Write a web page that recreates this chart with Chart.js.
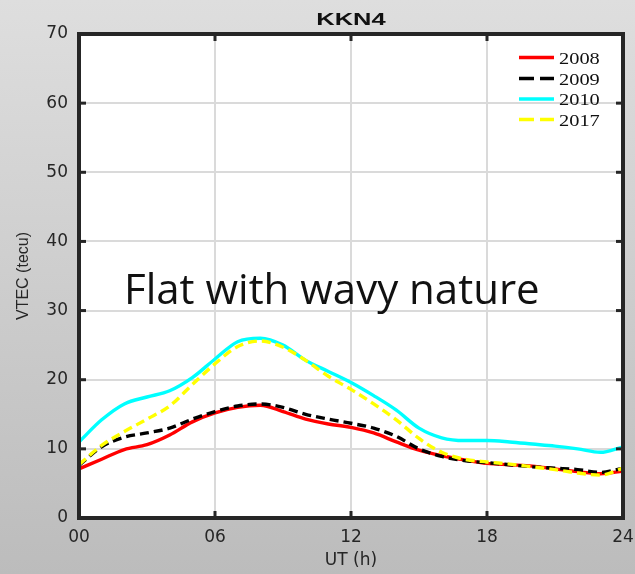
<!DOCTYPE html>
<html>
<head>
<meta charset="utf-8">
<title>KKN4</title>
<script src="https://cdn.jsdelivr.net/npm/chart.js@4.4.1/dist/chart.umd.min.js"></script>
<style>
  html, body { margin: 0; padding: 0; background: #cfcfcf; }
  #wrap { width: 635px; height: 574px; }
</style>
</head>
<body>
<div id="wrap"><canvas id="vtecChart" width="635" height="574"></canvas></div>
<script>
// UT hours of the hourly VTEC means
const hours = [0, 1, 2, 3, 4, 5, 6, 7, 8, 9, 10, 11, 12, 13, 14, 15, 16, 17, 18, 19, 20, 21, 22, 23, 24];

const years = ["2008", "2009", "2010", "2017"];

const vtec2008 = [7.1, 8.5, 9.9, 10.6, 12.0, 13.9, 15.2, 16.0, 16.3, 15.4, 14.3, 13.6, 13.1, 12.3, 11.0, 9.8, 9.0, 8.4, 7.9, 7.7, 7.5, 7.1, 6.7, 6.4, 6.8];
const vtec2009 = [7.6, 10.3, 11.7, 12.3, 13.0, 14.3, 15.4, 16.2, 16.5, 16.0, 15.0, 14.3, 13.7, 13.0, 11.8, 10.0, 8.9, 8.3, 8.0, 7.7, 7.4, 7.2, 7.0, 6.6, 7.2];
const vtec2010 = [11.0, 14.2, 16.5, 17.5, 18.4, 20.3, 23.0, 25.5, 26.0, 25.0, 22.8, 21.2, 19.6, 17.7, 15.6, 13.0, 11.6, 11.2, 11.2, 11.0, 10.7, 10.4, 10.0, 9.5, 10.3];
const vtec2017 = [7.7, 10.5, 12.5, 14.3, 16.2, 19.3, 22.3, 24.8, 25.6, 24.7, 22.8, 20.5, 18.6, 16.5, 14.2, 11.5, 9.5, 8.5, 8.1, 7.8, 7.4, 7.0, 6.5, 6.2, 7.2];

const xTicks = [0, 6, 12, 18, 24];
const yTicks = [0, 10, 20, 30, 40, 50, 60, 70];

const axisColor = "#262626";
const gridColor = "#dadada";

function toPoints(values) {
  return hours.map((h, i) => ({ x: h, y: values[i] }));
}

function makeSeries(label, values, color, dash, order) {
  return {
    label,
    data: toPoints(values),
    borderColor: color,
    backgroundColor: color,
    borderWidth: 3.4,
    borderDash: dash,
    pointRadius: 0,
    cubicInterpolationMode: "monotone",
    fill: false,
    order
  };
}

// slide background, white plot box
const backdrop = {
  id: "backdrop",
  beforeDraw(chart) {
    const { ctx, width, height, chartArea } = chart;
    ctx.save();
    const g = ctx.createLinearGradient(0, 0, 0, height);
    g.addColorStop(0, "#dedede");
    g.addColorStop(1, "#bcbcbc");
    ctx.fillStyle = g;
    ctx.fillRect(0, 0, width, height);
    ctx.fillStyle = "#ffffff";
    ctx.fillRect(chartArea.left, chartArea.top, chartArea.right - chartArea.left, chartArea.bottom - chartArea.top);
    ctx.restore();
  }
};

// box frame with inward ticks, title, legend and note
const decorations = {
  id: "decorations",
  afterDraw(chart) {
    const { ctx, chartArea } = chart;
    const { left, right, top, bottom } = chartArea;
    const xs = chart.scales.x;
    const ys = chart.scales.y;

    ctx.save();
    ctx.strokeStyle = axisColor;
    ctx.lineWidth = 4;
    ctx.strokeRect(left, top, right - left, bottom - top);

    ctx.fillStyle = axisColor;
    xTicks.slice(1, -1).forEach(v => {
      const px = xs.getPixelForValue(v);
      ctx.fillRect(px - 1.5, bottom - 7, 3, 7);
      ctx.fillRect(px - 1.5, top, 3, 7);
    });
    yTicks.slice(1, -1).forEach(v => {
      const py = ys.getPixelForValue(v);
      ctx.fillRect(left, py - 1.5, 7, 3);
      ctx.fillRect(right - 7, py - 1.5, 7, 3);
    });

    // title
    ctx.save();
    ctx.translate((left + right) / 2, 20);
    ctx.scale(1.5, 1);
    ctx.font = "bold 17px 'Liberation Sans'";
    ctx.textAlign = "center";
    ctx.textBaseline = "middle";
    ctx.fillStyle = "#111111";
    ctx.fillText("KKN4", 0, 0);
    ctx.restore();

    // legend
    const rowY = [57.5, 78.5, 99, 119.5];
    chart.data.datasets.forEach((ds, i) => {
      const y = rowY[i];
      ctx.beginPath();
      ctx.setLineDash(ds.borderDash.length ? [15, 6] : []);
      ctx.strokeStyle = ds.borderColor;
      ctx.lineWidth = 3.6;
      ctx.moveTo(519, y);
      ctx.lineTo(554, y);
      ctx.stroke();
      ctx.setLineDash([]);

      ctx.save();
      ctx.translate(559, y + 6);
      ctx.scale(1.2, 1);
      ctx.font = "17px 'Liberation Serif'";
      ctx.fillStyle = "#111111";
      ctx.textAlign = "left";
      ctx.textBaseline = "alphabetic";
      ctx.fillText(ds.label, 0, 0);
      ctx.restore();
    });

    // note over the plot
    ctx.font = "42px 'Open Sans'";
    ctx.fillStyle = "#111111";
    ctx.textAlign = "left";
    ctx.textBaseline = "alphabetic";
    ctx.fillText("Flat with wavy nature", 124, 304);

    ctx.restore();
  }
};

const chart = new Chart(document.getElementById("vtecChart"), {
  type: "line",
  data: {
    datasets: [
      makeSeries(years[0], vtec2008, "#ff0000", [], 4),
      makeSeries(years[1], vtec2009, "#000000", [9, 5], 3),
      makeSeries(years[2], vtec2010, "#00ffff", [], 2),
      makeSeries(years[3], vtec2017, "#ffff00", [9, 5], 1)
    ]
  },
  options: {
    responsive: false,
    animation: false,
    devicePixelRatio: 1,
    layout: { padding: { left: 0, top: 34, right: 12, bottom: 0 } },
    plugins: {
      legend: { display: false },
      title: { display: false },
      tooltip: { enabled: false }
    },
    scales: {
      x: {
        type: "linear",
        min: 0,
        max: 24,
        afterBuildTicks: scale => { scale.ticks = xTicks.map(v => ({ value: v })); },
        afterFit: scale => {
          scale.height = 56;
          // the "24" label may hang over the right margin
          scale.paddingLeft = 0;
          scale.paddingRight = 0;
        },
        ticks: {
          color: axisColor,
          padding: 9,
          maxRotation: 0,
          font: { family: "'DejaVu Sans'", size: 17 },
          callback: v => String(v).padStart(2, "0")
        },
        grid: { color: gridColor, lineWidth: 2, drawTicks: false },
        border: { display: false },
        title: {
          display: true,
          text: "UT (h)",
          color: axisColor,
          font: { family: "'DejaVu Sans'", size: 17 },
          padding: { top: 0, bottom: 3 }
        }
      },
      y: {
        min: 0,
        max: 70,
        afterBuildTicks: scale => { scale.ticks = yTicks.map(v => ({ value: v })); },
        afterFit: scale => { scale.width = 79; },
        ticks: {
          color: axisColor,
          padding: 11,
          font: { family: "'DejaVu Sans'", size: 17 }
        },
        grid: { color: gridColor, lineWidth: 2, drawTicks: false },
        border: { display: false },
        title: {
          display: true,
          text: "VTEC (tecu)",
          color: axisColor,
          font: { family: "'Liberation Sans'", size: 16 },
          padding: { top: 14, bottom: 0 }
        }
      }
    }
  },
  plugins: [backdrop, decorations]
});
</script>
</body>
</html>
